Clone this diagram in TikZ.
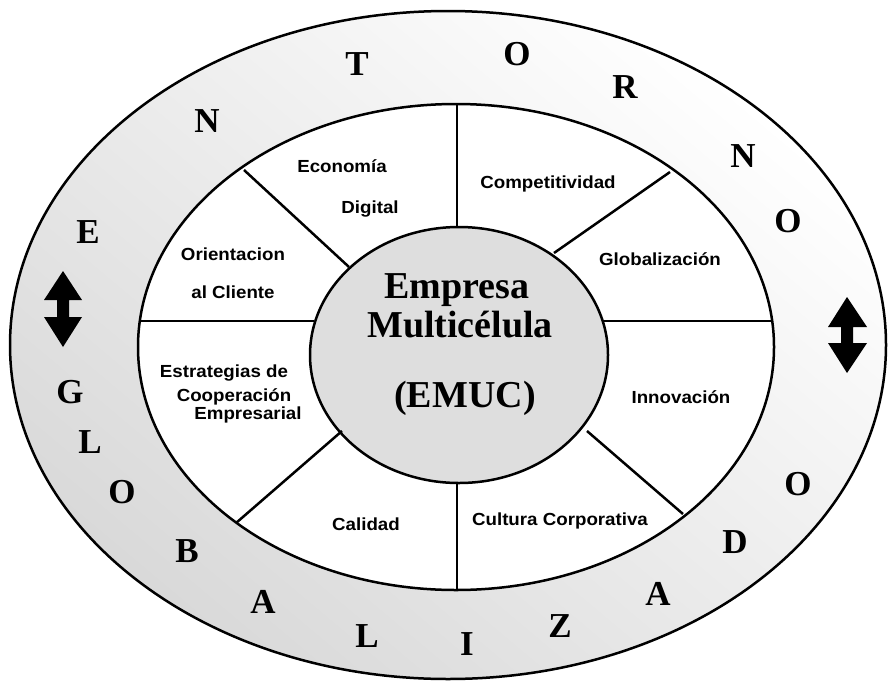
\documentclass[tikz,border=0pt]{standalone}
\usepackage{fontspec}
\setmainfont{Liberation Serif}
\newfontfamily\labelfont[FakeStretch=1.07]{Liberation Sans}
\begin{document}
\begin{tikzpicture}[x=1pt,y=-1pt,line width=2.5pt,
  ringletter/.style={font=\fontsize{35}{35}\selectfont\bfseries,inner sep=0pt,anchor=base},
  sector/.style={font=\labelfont\bfseries\fontsize{17.5}{18}\selectfont,inner sep=0pt,anchor=base},
  hubtext/.style={font=\fontsize{38}{38}\selectfont\bfseries,inner sep=0pt,anchor=base},
  bigarrow/.style={fill=black,draw=none}]
\useasboundingbox (0,0) rectangle (891,683);

% outer ring: environment band, toned toward the lower left
\shade[even odd rule,top color=white,bottom color=black!15,shading angle=-40]
  (448,345) ellipse [x radius=438pt,y radius=334pt]
  (456,347) ellipse [x radius=318pt,y radius=243pt];
\draw (448,345) ellipse [x radius=438pt,y radius=334pt];

% inner band of sectors
\fill[white] (456,347) ellipse [x radius=318pt,y radius=243pt];
\draw (456,347) ellipse [x radius=318pt,y radius=243pt];

% hub
\fill[black!13] (459,355) ellipse [x radius=149pt,y radius=128pt];
\draw (459,355) ellipse [x radius=149pt,y radius=128pt];

% divider end points (inner band edge / hub edge)
\coordinate (tOut) at (457,104);  \coordinate (tIn) at (457,227);
\coordinate (bOut) at (457,590);  \coordinate (bIn) at (457,483);
\coordinate (lOut) at (139,321);  \coordinate (lIn) at (314,321);
\coordinate (rOut) at (773,321);  \coordinate (rIn) at (604,321);
\coordinate (ulOut) at (244,170); \coordinate (ulIn) at (349,267);
\coordinate (urOut) at (670,172); \coordinate (urIn) at (554,253);
\coordinate (lrOut) at (683,514); \coordinate (lrIn) at (587,431);
\coordinate (llOut) at (236,523); \coordinate (llIn) at (342,431);

\foreach \d in {t,b,l,r,ul,ur,lr,ll}
  \draw (\d Out) -- (\d In);

% hub text
\node[hubtext] (hubA) at (457,298) {Empresa};
\node[hubtext] (hubB) at (460,337) {Multicélula};
\node[hubtext] (hubC) at (465,407) {(EMUC)};

% sector labels
\node[sector] (ecoA) at (342,172) {Economía};
\node[sector] (ecoB) at (370,213) {Digital};
\node[sector] (comp) at (548,188) {Competitividad};
\node[sector] (oriA) at (233,260) {Orientacion};
\node[sector] (oriB) at (233,298) {al Cliente};
\node[sector] (glob) at (660,265) {Globalización};
\node[sector] (estA) at (224,377) {Estrategias de};
\node[sector] (estB) at (234,401) {Cooperación};
\node[sector] (estC) at (248,419) {Empresarial};
\node[sector] (inno) at (681,403) {Innovación};
\node[sector] (cali) at (366,530) {Calidad};
\node[sector] (cult) at (560,525) {Cultura Corporativa};

% ENTORNO
\node[ringletter] (e1) at (88,243) {E};
\node[ringletter] (e2) at (207,132) {N};
\node[ringletter] (e3) at (357,75) {T};
\node[ringletter] (e4) at (517,65) {O};
\node[ringletter] (e5) at (625,98) {R};
\node[ringletter] (e6) at (743,167) {N};
\node[ringletter] (e7) at (788,232) {O};
% GLOBALIZADO
\node[ringletter] (g1) at (70,403) {G};
\node[ringletter] (g2) at (90,453) {L};
\node[ringletter] (g3) at (122,503) {O};
\node[ringletter] (g4) at (187,562) {B};
\node[ringletter] (g5) at (263,613) {A};
\node[ringletter] (g6) at (367,647) {L};
\node[ringletter] (g7) at (467,655) {I};
\node[ringletter] (g8) at (560,637) {Z};
\node[ringletter] (g9) at (658,605) {A};
\node[ringletter] (g10) at (735,553) {D};
\node[ringletter] (g11) at (798,495) {O};

% two-way arrows
\fill[bigarrow] (63,271) -- (82,300) -- (69,300) -- (69,317) -- (82,317)
  -- (63,347) -- (44,317) -- (57,317) -- (57,300) -- (44,300) -- cycle;
\fill[bigarrow] (847,297) -- (867,327) -- (853,327) -- (853,343) -- (867,343)
  -- (847,373) -- (828,343) -- (841,343) -- (841,327) -- (828,327) -- cycle;
\end{tikzpicture}
\end{document}
